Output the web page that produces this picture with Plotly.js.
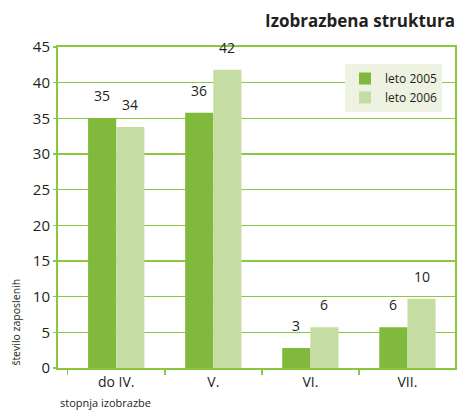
<!DOCTYPE html>
<html>
<head>
<meta charset="utf-8">
<script src="https://cdn.plot.ly/plotly-3.0.1.min.js"></script>
<style>
html,body{margin:0;padding:0;background:#fff;}
#chart{width:457px;height:413px;}
</style>
</head>
<body>
<div id="chart"></div>
<script>
const categories = ["do IV.", "V.", "VI.", "VII."];
const values2005 = [35, 35.8, 2.8, 5.7];
const values2006 = [33.8, 41.8, 5.7, 9.7];
const labels2005 = ["35", "36", "3", "6"];
const labels2006 = ["34", "42", "6", "10"];
const seriesNames = ["leto 2005", "leto 2006"];

const FONT = "Open Sans, Noto Sans, sans-serif";
const dark = "#80b93b";
const light = "#c5dda2";
const grid = "#8dc63f";
const bargap = 0.42;

const traces = [
  {type: "bar", name: seriesNames[0], x: categories, y: values2005,
   marker: {color: dark}, hoverinfo: "none"},
  {type: "bar", name: seriesNames[1], x: categories, y: values2006,
   marker: {color: light}, hoverinfo: "none"}
];

const half = (1 - bargap) / 4;
const annotations = [];
categories.forEach((c, i) => {
  annotations.push({x: i - half, y: values2005[i], xref: "x", yref: "y", text: labels2005[i],
    showarrow: false, yanchor: "bottom", yshift: 11, font: {family: FONT, size: 14, color: "#231f20"}});
  annotations.push({x: i + half, y: values2006[i], xref: "x", yref: "y", text: labels2006[i],
    showarrow: false, yanchor: "bottom", yshift: 11, font: {family: FONT, size: 14, color: "#231f20"}});
});
annotations.push({text: "število zaposlenih", xref: "paper", yref: "paper", x: -0.108, y: 0,
  xanchor: "center", yanchor: "bottom", textangle: -90, showarrow: false,
  font: {family: FONT, size: 10.5, color: "#231f20"}});
annotations.push({text: "stopnja izobrazbe", xref: "paper", yref: "paper", x: 0, y: -0.109,
  xanchor: "left", yanchor: "middle", showarrow: false,
  font: {family: FONT, size: 11, color: "#231f20"}});

const layout = {
  width: 457, height: 413,
  margin: {l: 58, r: 2, t: 47, b: 45},
  paper_bgcolor: "#fff", plot_bgcolor: "#fff",
  font: {family: FONT, color: "#231f20"},
  title: {text: "<b>Izobrazbena struktura</b>", xref: "paper", x: 1, xanchor: "right",
    yref: "container", y: 0.95, yanchor: "middle",
    font: {family: FONT, size: 17, color: "#231f20"}},
  barmode: "group", bargap: bargap, bargroupgap: 0,
  showlegend: true,
  legend: {x: 0.723, y: 0.947, xanchor: "left", yanchor: "top", bgcolor: "#eef3e1",
    borderwidth: 0, font: {family: FONT, size: 12, color: "#231f20"},
    itemwidth: 30, tracegroupgap: 6},
  xaxis: {type: "category", range: [-0.6, 3.49], showline: true, linecolor: grid, linewidth: 2,
    mirror: true, ticks: "outside", tickson: "boundaries", ticklen: 5, tickcolor: grid,
    tickwidth: 1.5, showgrid: false, tickfont: {family: FONT, size: 14, color: "#231f20"}, fixedrange: true},
  yaxis: {range: [0, 45], dtick: 5, showline: true, linecolor: grid, linewidth: 2, mirror: true,
    showgrid: true, gridcolor: grid, gridwidth: 1.5, zeroline: false,
    ticks: "outside", ticklen: 3, tickcolor: grid, tickwidth: 1.5,
    tickfont: {family: FONT, size: 15, color: "#231f20"}, fixedrange: true},
  annotations: annotations
};

Plotly.newPlot("chart", traces, layout, {displayModeBar: false, staticPlot: true});
</script>
</body>
</html>
